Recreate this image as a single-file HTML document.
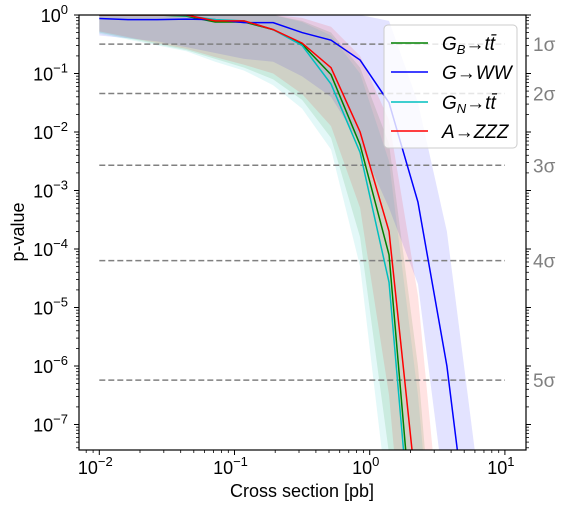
<!DOCTYPE html>
<html><head><meta charset="utf-8"><style>
html,body{margin:0;padding:0;background:#fff;width:565px;height:506px;overflow:hidden;}
svg{display:block;font-family:"Liberation Sans","DejaVu Sans",sans-serif;}
</style></head><body>
<svg id="chart" width="565" height="506" viewBox="0 0 565 506" xmlns="http://www.w3.org/2000/svg">
<defs><clipPath id="clip"><rect x="79" y="15" width="447" height="435"/></clipPath></defs>
<g id="bands" clip-path="url(#clip)"></g>
<g id="sig"></g>
<g id="lines" clip-path="url(#clip)"></g>
<rect x="79" y="15" width="447" height="435" fill="none" stroke="#000" stroke-width="1.2"/>
<g id="axes"></g>
<text x="302" y="497" font-size="18" text-anchor="middle">Cross section [pb]</text>
<text x="24" y="232" font-size="18" text-anchor="middle" transform="rotate(-90 24 232)">p-value</text>
<g>
<rect x="384" y="25" width="133" height="123" rx="4" fill="#fff" fill-opacity="0.8" stroke="#ccc"/>
<g><line x1="391" y1="43" x2="428" y2="43" stroke="green" stroke-width="1.5"/><text x="442" y="50" font-size="19" font-style="italic">G<tspan font-size="13" dy="4">B</tspan><tspan dy="-4" font-style="normal">→</tspan>t<tspan>t̄</tspan></text></g>
<g><line x1="391" y1="72" x2="428" y2="72" stroke="blue" stroke-width="1.5"/><text x="442" y="79" font-size="19" font-style="italic">G<tspan font-style="normal">→</tspan>WW</text></g>
<g><line x1="391" y1="102" x2="428" y2="102" stroke="#00bfbf" stroke-width="1.5"/><text x="442" y="109" font-size="19" font-style="italic">G<tspan font-size="13" dy="4">N</tspan><tspan dy="-4" font-style="normal">→</tspan>t<tspan>t̄</tspan></text></g>
<g><line x1="391" y1="131" x2="428" y2="131" stroke="red" stroke-width="1.5"/><text x="442" y="138" font-size="19" font-style="italic">A<tspan font-style="normal">→</tspan>ZZZ</text></g>
</g>
</svg>
<script>
// log10 of cross section points (15 points, -2..1)
const xLog = [-2,-1.786,-1.571,-1.357,-1.143,-0.929,-0.714,-0.5,-0.286,-0.071,0.143,0.357,0.571,0.786,1];
// log10 p-values
const greenVals = [0,0,0,-0.02,-0.12,-0.12,-0.25,-0.5,-1.02,-2.22,-4.1,-9.9,-12,-12,-12];
const blueVals  = [-0.06,-0.08,-0.08,-0.07,-0.08,-0.13,-0.13,-0.3,-0.43,-0.77,-1.5,-3.2,-6.0,-10,-12];
const cyanVals  = [0,0,0,-0.01,-0.08,-0.1,-0.25,-0.52,-1.18,-2.35,-4.57,-10.3,-12,-12,-12];
const redVals   = [0,0,0,0,-0.1,-0.1,-0.25,-0.48,-0.9,-2.0,-3.7,-8.4,-12,-12,-12];
const greenLo = [-0.3,-0.4,-0.5,-0.6,-0.75,-0.9,-1.1,-1.45,-2.1,-3.8,-7.5,-12,-12,-12,-12];
const greenHi = [0,0,0,0,0,0,0,-0.1,-0.3,-0.9,-2.2,-6,-12,-12,-12];
const blueLo  = [-0.35,-0.4,-0.45,-0.55,-0.65,-0.75,-0.8,-1.05,-1.4,-2.2,-3.3,-4.6,-8.5,-12,-12];
const blueHi  = [0,0,0,0,0,0,0,0,0,0,-0.1,-1.5,-3.7,-7.6,-12];
const cyanLo  = [-0.32,-0.42,-0.52,-0.62,-0.8,-0.95,-1.2,-1.6,-2.3,-4.3,-8.5,-12,-12,-12,-12];
const cyanHi  = [0,0,0,0,0,0,0,-0.12,-0.35,-1.0,-2.5,-6.5,-12,-12,-12];
const redLo   = [-0.28,-0.38,-0.48,-0.58,-0.72,-0.85,-1.0,-1.35,-1.9,-3.3,-6.5,-12,-12,-12,-12];
const redHi   = [0,0,0,0,0,0,0,-0.05,-0.2,-0.7,-1.8,-4.8,-10,-12,-12];
const sigmaLabels = ["1σ","2σ","3σ","4σ","5σ"];
const sigmaP = [0.3173,0.0455,0.0027,0.0000633,0.000000573];
const xTickExp = [-2,-1,0,1];
const yTickExp = [0,-1,-2,-3,-4,-5,-6,-7];

const NS="http://www.w3.org/2000/svg";
function X(l){return 99.3+(l+2)*135.2;}
function Y(l){return 15-l*58.5;}
function mk(t,a,p){const e=document.createElementNS(NS,t);for(const k in a)e.setAttribute(k,a[k]);p.appendChild(e);return e;}

const bands=document.getElementById('bands');
const series=[["green",greenVals,greenLo,greenHi,"#008000","green"],["blue",blueVals,blueLo,blueHi,"#0000ff","blue"],["cyan",cyanVals,cyanLo,cyanHi,"#00bfbf","cyan"],["red",redVals,redLo,redHi,"#ff0000","red"]];
series.forEach(s=>{
  let d="M"+xLog.map((x,i)=>X(x)+","+Y(s[3][i])).join("L");
  for(let i=xLog.length-1;i>=0;i--)d+="L"+X(xLog[i])+","+Y(s[2][i]);
  const p=mk('path',{d:d+"Z",fill:s[4],"fill-opacity":"0.11",stroke:"none"},bands);
  
  
});
const lines=document.getElementById('lines');
series.forEach(s=>{
  const p=mk('polyline',{points:xLog.map((x,i)=>X(x)+","+Y(s[1][i])).join(" "),fill:"none",stroke:s[4],"stroke-width":"1.5"},lines);
  
  
});
const sig=document.getElementById('sig');
sigmaP.forEach((p,i)=>{
  const y=Y(Math.log10(p));
  const l=mk('line',{x1:X(-2),x2:X(1),y1:y,y2:y,stroke:"#808080","stroke-width":"1.5","stroke-dasharray":"6,3"},sig);
  
  
  const t=mk('text',{x:533,y:y+7,"font-size":"19",fill:"#808080"},sig);
  t.textContent=sigmaLabels[i];
  
  
});
const ax=document.getElementById('axes');
xTickExp.forEach(e=>{
  const x=X(e);
  mk('line',{x1:x,x2:x,y1:450,y2:455,stroke:"#000"},ax);
  const t=mk('text',{x:x-4,y:474,"font-size":"18","text-anchor":"middle"},ax);
  t.innerHTML='10<tspan font-size="13" dy="-8">'+(e<0?'−'+(-e):e)+'</tspan>';
  
  
});
for(let d=-3;d<1;d++)for(let m=2;m<10;m++){const l=d+Math.log10(m);if(l<-2.15||l>1.06)continue;const x=X(l);mk('line',{x1:x,x2:x,y1:450,y2:453,stroke:"#000","stroke-width":"0.8"},ax);}
yTickExp.forEach(e=>{
  const y=Y(e);
  mk('line',{x1:74,x2:79,y1:y,y2:y,stroke:"#000"},ax);
  mk('line',{x1:526,x2:531,y1:y,y2:y,stroke:"#000"},ax);
  const t=mk('text',{x:68,y:y+7,"font-size":"18","text-anchor":"end"},ax);
  t.innerHTML='10<tspan font-size="13" dy="-8">'+(e<0?'−'+(-e):e)+'</tspan>';
  
  
});
for(let d=-8;d<0;d++)for(let m=2;m<10;m++){const l=d+Math.log10(m);const y=Y(l);if(y>450||y<15)continue;mk('line',{x1:76,x2:79,y1:y,y2:y,stroke:"#000","stroke-width":"0.8"},ax);mk('line',{x1:526,x2:529,y1:y,y2:y,stroke:"#000","stroke-width":"0.8"},ax);}
</script>
</body></html>
